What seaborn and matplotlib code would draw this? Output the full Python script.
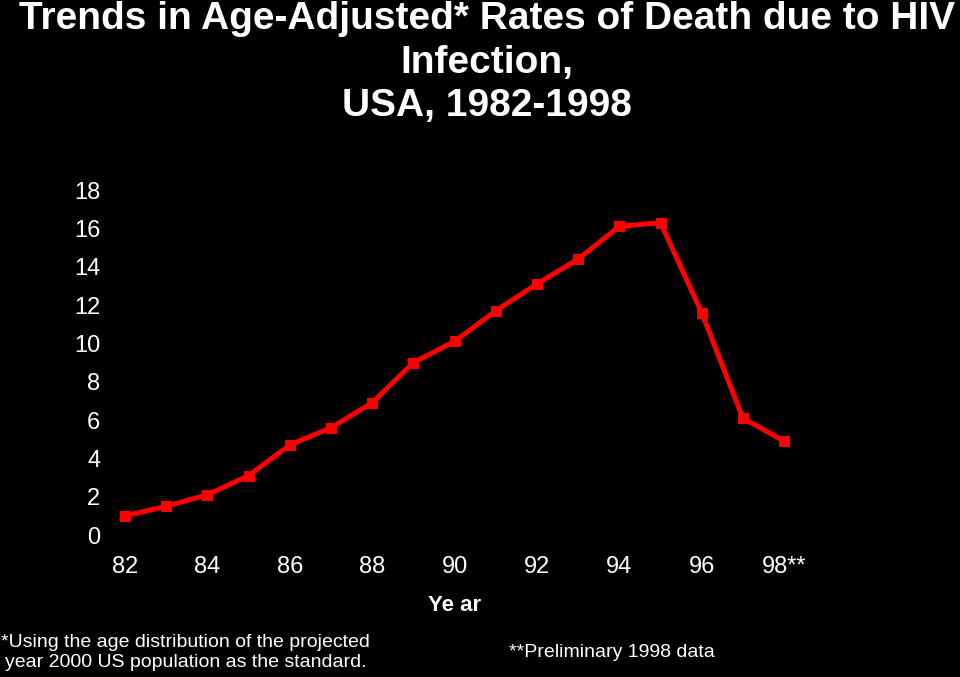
import matplotlib
matplotlib.use("Agg")
import matplotlib.pyplot as plt
import seaborn as sns
import pandas as pd

# Age-adjusted death rate due to HIV infection, per 100,000
years = list(range(82, 99))
rates = [1.0, 1.5, 2.1, 3.1, 4.7, 5.6, 6.9, 9.0, 10.1, 11.7,
         13.1, 14.4, 16.1, 16.3, 11.6, 6.1, 4.9]
tick_years = [82, 84, 86, 88, 90, 92, 94, 96, 98]
tick_labels = ["82", "84", "86", "88", "90", "92", "94", "96", "98**"]
y_ticks = [0, 2, 4, 6, 8, 10, 12, 14, 16, 18]

sns.set_style("dark")
plt.rcParams["font.family"] = ["Liberation Sans", "DejaVu Sans"]

df = pd.DataFrame({"year": years, "rate": rates})

fig = plt.figure(figsize=(9.6, 6.77), dpi=100, facecolor="black")
ax = fig.add_axes([0.1088, 0.2097, 0.7294, 0.5096])
ax.set_facecolor("black")

sns.lineplot(data=df, x="year", y="rate", ax=ax, color="#ff0000",
             linewidth=3.6, marker="s", markersize=7,
             markeredgecolor="#ff0000", clip_on=False)

ax.set_xlim(81.5, 98.5)
ax.set_ylim(0, 18)
ax.set_xticks(tick_years)
ax.set_xticklabels(tick_labels)
ax.set_yticks(y_ticks)
ax.grid(False)
for s in ax.spines.values():
    s.set_visible(False)
ax.tick_params(axis="both", colors="white", labelsize=17, length=0)
ax.tick_params(axis="x", pad=15)
ax.tick_params(axis="y", pad=3)
ax.set_ylabel("")
ax.set_xlabel("Ye ar", color="white", fontsize=16, fontweight="bold", labelpad=12)

fig.text(0.507, 0.998, "Trends in Age-Adjusted* Rates of Death due to HIV\nInfection,\nUSA, 1982-1998",
         ha="center", va="top", color="white", fontsize=28, fontweight="bold",
         linespacing=1.27)

fig.text(0.193, 0.036, "*Using the age distribution of the projected\nyear 2000 US population as the standard.",
         ha="center", va="center", color="white", fontsize=14, linespacing=1.25)
fig.text(0.6375, 0.036, "**Preliminary 1998 data", ha="center", va="center",
         color="white", fontsize=14)

fig.savefig("out.png", dpi=100, facecolor="black")
